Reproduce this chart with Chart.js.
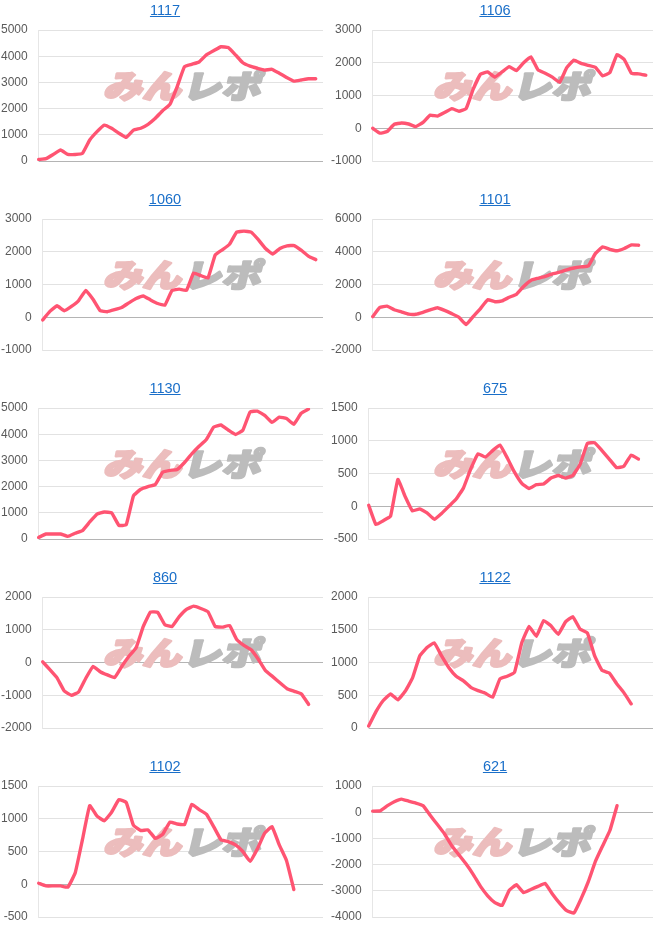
<!DOCTYPE html>
<html>
<head>
<meta charset="utf-8">
<script src="https://cdn.jsdelivr.net/npm/chart.js@4.4.1/dist/chart.umd.min.js"></script>
<style>
  body { margin: 0; background: #fff; font-family: "Liberation Sans", Arial, sans-serif; }
  #grid { display: grid; grid-template-columns: 330px 330px; grid-auto-rows: 189px; width: 660px; }
  .cell { position: relative; width: 330px; height: 189px; }
  .cell canvas { position: absolute; left: 0; top: 0; }
  .ttl { position: absolute; left: 0; top: 2px; width: 330px; text-align: center; font-size: 14.5px; line-height: 16px; z-index: 2; }
  .ttl a { color: #1a6fc9; text-decoration: underline; }
</style>
</head>
<body>
<div id="grid"></div>
<script>
// x軸 (非表示) のラベル
const dayLabels = ["1","2","3","4","5","6","7","8","9","10","11","12","13","14","15","16","17","18","19","20",
  "21","22","23","24","25","26","27","28","29","30","31","32","33","34","35","36","37","38","39","40"];

// 台番号
const titles = ["1117", "1106", "1060", "1101", "1130", "675", "860", "1122", "1102", "621"];

// 差枚の推移
const s1117 = [60, 90, 250, 420, 250, 250, 290, 800, 1120, 1370, 1250, 1060, 900, 1180, 1250, 1400, 1630, 1920, 2160, 2840,
  3600, 3690, 3780, 4050, 4210, 4360, 4330, 4050, 3750, 3620, 3540, 3470, 3500, 3350, 3190, 3050, 3090, 3140, 3140];
const s1106 = [0, -150, -100, 120, 160, 130, 50, 180, 400, 370, 480, 600, 520, 600, 1200, 1650, 1720, 1560, 1720, 1880,
  1760, 2000, 2180, 1780, 1680, 1560, 1400, 1850, 2080, 1980, 1920, 1860, 1600, 1700, 2250, 2100, 1680, 1660, 1620];
const s1060 = [-80, 180, 350, 200, 330, 510, 820, 550, 200, 170, 230, 300, 440, 570, 650, 530, 420, 370, 820, 860,
  820, 1350, 1270, 1200, 1900, 2060, 2230, 2600, 2630, 2600, 2370, 2100, 1930, 2100, 2180, 2190, 2040, 1860, 1760];
const s1101 = [40, 600, 680, 460, 330, 190, 180, 300, 450, 580, 420, 220, 0, -450, 50, 530, 1070, 950, 1000, 1220,
  1400, 1880, 2250, 2380, 2500, 2650, 2750, 2900, 3010, 3080, 3130, 3900, 4300, 4150, 4060, 4200, 4420, 4400];
const s1130 = [60, 190, 190, 190, 100, 220, 320, 650, 950, 1030, 1000, 520, 540, 1650, 1900, 2000, 2080, 2550, 2620, 2650,
  2920, 3250, 3540, 3800, 4270, 4350, 4160, 3990, 4150, 4850, 4880, 4720, 4450, 4650, 4600, 4380, 4800, 4960];
const s675 = [15, -280, -220, -150, 410, 150, -70, -40, -100, -200, -110, 0, 110, 280, 570, 800, 750, 850, 935, 740,
  520, 350, 270, 330, 340, 430, 470, 430, 470, 640, 960, 970, 850, 720, 590, 610, 780, 720];
const s860 = [20, -220, -470, -870, -1000, -900, -480, -120, -280, -380, -460, -120, 190, 450, 1100, 1540, 1530, 1150, 1100, 1400,
  1620, 1720, 1650, 1550, 1100, 1080, 1130, 700, 520, 390, 100, -250, -430, -620, -800, -880, -960, -1280];
const s1122 = [30, 250, 420, 520, 430, 560, 760, 1100, 1230, 1300, 1100, 920, 790, 720, 620, 570, 530, 470, 750, 790,
  850, 1300, 1550, 1400, 1640, 1560, 1430, 1620, 1700, 1510, 1450, 1100, 880, 840, 680, 540, 370];
const s1102 = [15, -25, -25, -25, -45, 170, 680, 1200, 1040, 970, 1100, 1290, 1250, 900, 820, 830, 700, 760, 950, 920,
  910, 1220, 1140, 1070, 880, 680, 650, 600, 500, 350, 540, 780, 880, 600, 360, -80];
const s621 = [40, 50, 240, 400, 500, 420, 350, 250, -120, -470, -830, -1280, -1630, -1980, -2380, -2830, -3190, -3450, -3560, -2980,
  -2770, -3070, -2950, -2830, -2720, -3120, -3470, -3760, -3850, -3300, -2650, -1870, -1280, -700, 250];

const seriesList = [s1117, s1106, s1060, s1101, s1130, s675, s860, s1122, s1102, s621];

// y軸の範囲
const yMins = [0, -1000, -1000, -2000, 0, -500, -2000, 0, -500, -4000];
const yMaxs = [5000, 3000, 3000, 6000, 5000, 1500, 2000, 2000, 1500, 1000];
const ySteps = [1000, 1000, 1000, 2000, 1000, 500, 1000, 500, 500, 1000];

// 透かしロゴ (グリッドの上、線の下)
const watermark = {
  id: "watermark",
  beforeDatasetsDraw(chart) {
    const ctx = chart.ctx;
    ctx.save();
    ctx.translate(103, 98);
    ctx.transform(1.22, 0, -0.24, 1, 0, 0);
    ctx.font = "900 32px 'Noto Sans CJK JP'";
    ctx.textBaseline = "alphabetic";
    ctx.lineJoin = "round";
    ctx.lineWidth = 2.4;
    ctx.fillStyle = ctx.strokeStyle = "#ecbdbd";
    ctx.strokeText("みん", 0, 0);
    ctx.fillText("みん", 0, 0);
    const w = ctx.measureText("みん").width;
    ctx.fillStyle = ctx.strokeStyle = "#bcbcbc";
    ctx.strokeText("レポ", w + 1, 0);
    ctx.fillText("レポ", w + 1, 0);
    ctx.restore();
  }
};

const grid = document.getElementById("grid");

titles.forEach((title, i) => {
  const cell = document.createElement("div");
  cell.className = "cell";
  cell.innerHTML = '<div class="ttl"><a href="#">' + title + '</a></div><canvas width="330" height="189"></canvas>';
  grid.appendChild(cell);

  new Chart(cell.querySelector("canvas"), {
    type: "line",
    data: {
      labels: dayLabels,
      datasets: [{
        data: seriesList[i],
        borderColor: "rgb(255, 84, 114)",
        borderWidth: 3.4,
        pointRadius: 0,
        tension: 0.1,
        fill: false,
        borderJoinStyle: "round",
        borderCapStyle: "round",
      }],
    },
    options: {
      responsive: false,
      animation: false,
      layout: { padding: { top: 30, bottom: 28, left: -10, right: 7 } },
      plugins: { legend: { display: false }, tooltip: { enabled: false } },
      scales: {
        x: { display: false },
        y: {
          min: yMins[i],
          max: yMaxs[i],
          ticks: {
            stepSize: ySteps[i],
            color: "#5a5a5a",
            padding: 11,
            font: { family: "'Liberation Sans', Arial", size: 12 },
            callback: (v) => String(v),
          },
          grid: {
            drawTicks: false,
            color: (c) => (c.tick && c.tick.value === 0 ? "#b4b4b4" : "#e2e2e2"),
          },
          border: { color: "#e6e6e6" },
        },
      },
    },
    plugins: [watermark],
  });
});
</script>
</body>
</html>
